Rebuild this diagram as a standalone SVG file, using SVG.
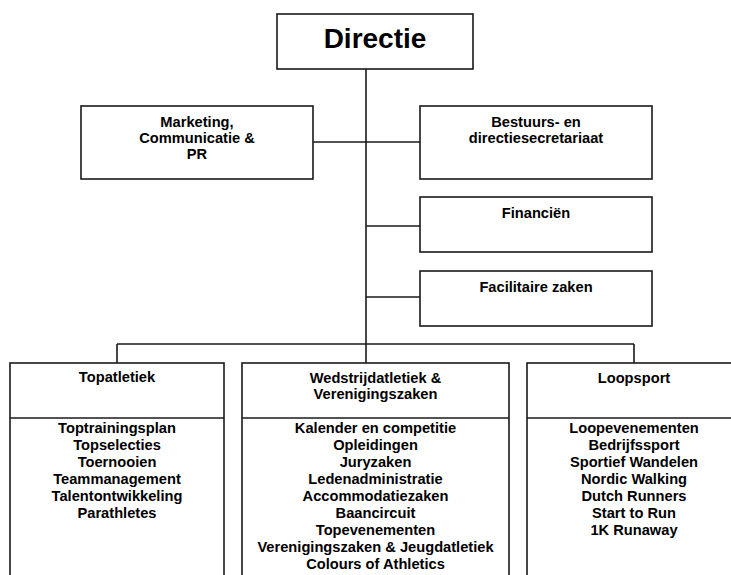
<svg xmlns="http://www.w3.org/2000/svg" width="731" height="575" viewBox="0 0 731 575">
<style>
.box{fill:#fff;stroke:#1a1a1a;stroke-width:1.6}
.ln{stroke:#1a1a1a;stroke-width:1.6;fill:none}
text{font-family:"Liberation Sans",Arial,sans-serif;font-weight:bold;font-size:14.67px;fill:#000;text-anchor:middle}
.big{font-size:28px}
</style>
<rect width="731" height="575" fill="#fff"/>
<g id="connectors">
<path class="ln" d="M366,69 V344 M313,142 H420 M366,226 H420 M366,297 H420 M117,344 H634 M117,344 V363 M366,344 V363 M634,344 V363"/>
</g>
<g id="directie">
<rect class="box" x="277" y="14" width="196" height="55"/>
<text class="big" x="375" y="48">Directie</text>
</g>
<g id="marketing">
<rect class="box" x="81" y="106" width="232" height="73"/>
<text x="197" y="127">Marketing,</text>
<text x="197" y="143">Communicatie &amp;</text>
<text x="197" y="159">PR</text>
</g>
<g id="bestuurs">
<rect class="box" x="420" y="106" width="232" height="73"/>
<text x="536" y="127">Bestuurs- en</text>
<text x="536" y="143">directiesecretariaat</text>
</g>
<g id="financien">
<rect class="box" x="420" y="197" width="232" height="55"/>
<text x="536" y="218">Financiën</text>
</g>
<g id="facilitaire">
<rect class="box" x="420" y="271" width="232" height="55"/>
<text x="536" y="292">Facilitaire zaken</text>
</g>
<g id="topatletiek">
<rect class="box" x="10" y="363" width="214" height="230"/>
<path class="ln" d="M10,418 H224"/>
<text x="117" y="382">Topatletiek</text>
<text x="117" y="433">Toptrainingsplan</text>
<text x="117" y="450">Topselecties</text>
<text x="117" y="467">Toernooien</text>
<text x="117" y="484">Teammanagement</text>
<text x="117" y="501">Talentontwikkeling</text>
<text x="117" y="518">Parathletes</text>
</g>
<g id="wedstrijd">
<rect class="box" x="242" y="363" width="267" height="230"/>
<path class="ln" d="M242,418 H509"/>
<text x="375.5" y="383">Wedstrijdatletiek &amp;</text>
<text x="375.5" y="399">Verenigingszaken</text>
<text x="375.5" y="433">Kalender en competitie</text>
<text x="375.5" y="450">Opleidingen</text>
<text x="375.5" y="467">Juryzaken</text>
<text x="375.5" y="484">Ledenadministratie</text>
<text x="375.5" y="501">Accommodatiezaken</text>
<text x="375.5" y="518">Baancircuit</text>
<text x="375.5" y="535">Topevenementen</text>
<text x="375.5" y="552">Verenigingszaken &amp; Jeugdatletiek</text>
<text x="375.5" y="569">Colours of Athletics</text>
</g>
<g id="loopsport">
<rect class="box" x="527" y="363" width="214" height="230"/>
<path class="ln" d="M527,418 H741"/>
<text x="634" y="383">Loopsport</text>
<text x="634" y="433">Loopevenementen</text>
<text x="634" y="450">Bedrijfssport</text>
<text x="634" y="467">Sportief Wandelen</text>
<text x="634" y="484">Nordic Walking</text>
<text x="634" y="501">Dutch Runners</text>
<text x="634" y="518">Start to Run</text>
<text x="634" y="535">1K Runaway</text>
</g>
</svg>
